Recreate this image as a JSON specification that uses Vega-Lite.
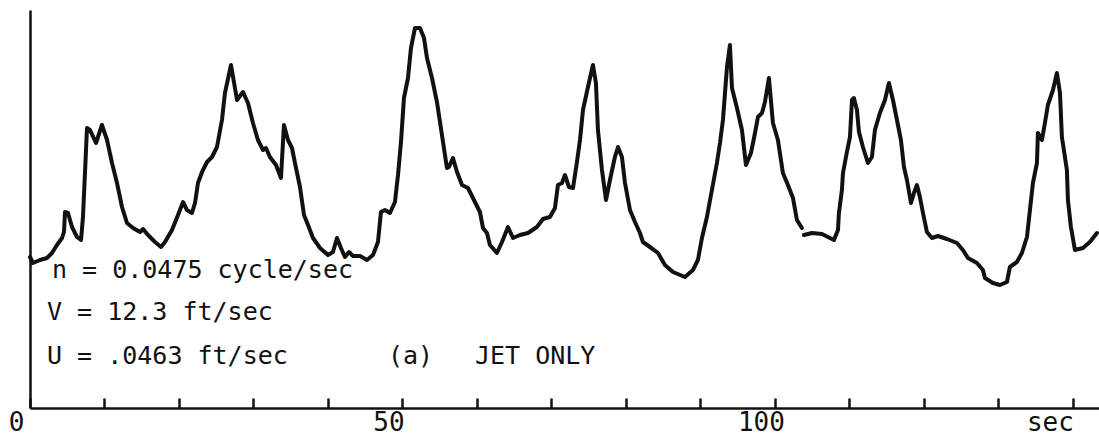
{
  "$schema": "https://vega.github.io/schema/vega-lite/v6.json",
  "width": 1069,
  "height": 398,
  "autosize": {"type": "none"},
  "padding": {"left": 30, "top": 10, "right": 0, "bottom": 28},
  "background": "white",
  "config": {"view": {"stroke": null}, "text": {"font": "DejaVu Sans Mono", "fontSize": 25, "color": "#111", "align": "left", "baseline": "alphabetic"}},
  "datasets": {
    "trace": [
      {"t": 0, "v": 37.75, "s": 1}, {"t": 0.40, "v": 36.25, "s": 1}, {"t": 1.34, "v": 37, "s": 1}, {"t": 2.28, "v": 37.5, "s": 1},
      {"t": 2.95, "v": 38.75, "s": 1}, {"t": 3.62, "v": 40.75, "s": 1}, {"t": 4.30, "v": 42.5, "s": 1}, {"t": 4.56, "v": 44, "s": 1},
      {"t": 4.70, "v": 49, "s": 1}, {"t": 5.10, "v": 48.75, "s": 1}, {"t": 5.64, "v": 45.25, "s": 1}, {"t": 6.31, "v": 42.75, "s": 1},
      {"t": 6.85, "v": 42, "s": 1}, {"t": 7.11, "v": 47.75, "s": 1}, {"t": 7.38, "v": 58.75, "s": 1}, {"t": 7.65, "v": 70, "s": 1},
      {"t": 8.05, "v": 69.5, "s": 1}, {"t": 8.86, "v": 66.25, "s": 1}, {"t": 9.66, "v": 70.75, "s": 1}, {"t": 10.34, "v": 67, "s": 1},
      {"t": 11.01, "v": 61.25, "s": 1}, {"t": 11.68, "v": 56.25, "s": 1}, {"t": 12.35, "v": 50.25, "s": 1}, {"t": 13.02, "v": 46.25, "s": 1},
      {"t": 13.83, "v": 45, "s": 1}, {"t": 14.77, "v": 44, "s": 1}, {"t": 15.17, "v": 44.75, "s": 1}, {"t": 15.84, "v": 43.25, "s": 1},
      {"t": 16.78, "v": 41.5, "s": 1}, {"t": 17.58, "v": 40.25, "s": 1}, {"t": 18.12, "v": 41.5, "s": 1}, {"t": 19.06, "v": 44.5, "s": 1},
      {"t": 19.87, "v": 48.25, "s": 1}, {"t": 20.54, "v": 51.5, "s": 1}, {"t": 21.07, "v": 49.5, "s": 1}, {"t": 21.74, "v": 48.75, "s": 1},
      {"t": 22.15, "v": 51.25, "s": 1}, {"t": 22.55, "v": 56.25, "s": 1}, {"t": 23.09, "v": 59, "s": 1}, {"t": 23.76, "v": 61.5, "s": 1},
      {"t": 24.43, "v": 62.75, "s": 1}, {"t": 25.10, "v": 65.25, "s": 1}, {"t": 25.77, "v": 72, "s": 1}, {"t": 26.17, "v": 78.75, "s": 1},
      {"t": 26.98, "v": 85.75, "s": 1}, {"t": 27.79, "v": 77, "s": 1}, {"t": 28.59, "v": 79, "s": 1}, {"t": 29.26, "v": 76.25, "s": 1},
      {"t": 29.93, "v": 71.25, "s": 1}, {"t": 30.60, "v": 67, "s": 1}, {"t": 31.28, "v": 64.5, "s": 1}, {"t": 31.68, "v": 65, "s": 1},
      {"t": 32.21, "v": 62.75, "s": 1}, {"t": 33.02, "v": 60.75, "s": 1}, {"t": 33.69, "v": 57.5, "s": 1}, {"t": 34.09, "v": 70.75, "s": 1},
      {"t": 34.63, "v": 67, "s": 1}, {"t": 35.17, "v": 65, "s": 1}, {"t": 35.57, "v": 61.25, "s": 1}, {"t": 36.24, "v": 55.25, "s": 1},
      {"t": 36.78, "v": 48.25, "s": 1}, {"t": 37.32, "v": 45.75, "s": 1}, {"t": 37.99, "v": 42.5, "s": 1}, {"t": 38.93, "v": 40, "s": 1},
      {"t": 40.00, "v": 38.25, "s": 1}, {"t": 40.67, "v": 39, "s": 1}, {"t": 41.21, "v": 42.5, "s": 1}, {"t": 41.74, "v": 40, "s": 1},
      {"t": 42.28, "v": 37.75, "s": 1}, {"t": 42.82, "v": 39, "s": 1}, {"t": 43.36, "v": 38, "s": 1}, {"t": 44.30, "v": 38, "s": 1},
      {"t": 45.23, "v": 37, "s": 1}, {"t": 46.04, "v": 38.25, "s": 1}, {"t": 46.71, "v": 41.5, "s": 1}, {"t": 47.11, "v": 49, "s": 1},
      {"t": 47.65, "v": 49.5, "s": 1}, {"t": 48.32, "v": 48.75, "s": 1}, {"t": 48.99, "v": 51.5, "s": 1}, {"t": 49.40, "v": 58.25, "s": 1},
      {"t": 49.80, "v": 66.5, "s": 1}, {"t": 50.20, "v": 77.5, "s": 1}, {"t": 50.74, "v": 82.5, "s": 1}, {"t": 51.14, "v": 90, "s": 1},
      {"t": 51.68, "v": 95, "s": 1}, {"t": 52.35, "v": 95, "s": 1}, {"t": 52.89, "v": 92.5, "s": 1}, {"t": 53.29, "v": 87.5, "s": 1},
      {"t": 53.96, "v": 82.5, "s": 1}, {"t": 54.63, "v": 76.5, "s": 1}, {"t": 55.30, "v": 68.25, "s": 1}, {"t": 55.97, "v": 60, "s": 1},
      {"t": 56.24, "v": 60.25, "s": 1}, {"t": 56.78, "v": 62.5, "s": 1}, {"t": 57.32, "v": 59, "s": 1}, {"t": 57.99, "v": 55.75, "s": 1},
      {"t": 58.79, "v": 55, "s": 1}, {"t": 59.46, "v": 52.5, "s": 1}, {"t": 60.40, "v": 49, "s": 1}, {"t": 60.81, "v": 45, "s": 1},
      {"t": 61.34, "v": 43.75, "s": 1}, {"t": 61.74, "v": 40.75, "s": 1}, {"t": 62.68, "v": 38.75, "s": 1}, {"t": 63.36, "v": 41.5, "s": 1},
      {"t": 64.16, "v": 45.25, "s": 1}, {"t": 64.83, "v": 42.5, "s": 1}, {"t": 65.77, "v": 43.25, "s": 1}, {"t": 66.85, "v": 43.75, "s": 1},
      {"t": 68.05, "v": 45.25, "s": 1}, {"t": 68.86, "v": 47.25, "s": 1}, {"t": 69.80, "v": 47.75, "s": 1}, {"t": 70.47, "v": 50, "s": 1},
      {"t": 70.87, "v": 55.75, "s": 1}, {"t": 71.41, "v": 56.25, "s": 1}, {"t": 71.81, "v": 58.25, "s": 1}, {"t": 72.35, "v": 55.25, "s": 1},
      {"t": 72.89, "v": 55, "s": 1}, {"t": 73.42, "v": 61.5, "s": 1}, {"t": 73.83, "v": 67, "s": 1}, {"t": 74.23, "v": 74.5, "s": 1},
      {"t": 74.90, "v": 80.25, "s": 1}, {"t": 75.57, "v": 85.75, "s": 1}, {"t": 75.97, "v": 81.25, "s": 1}, {"t": 76.24, "v": 69.5, "s": 1},
      {"t": 76.78, "v": 59.5, "s": 1}, {"t": 77.32, "v": 52, "s": 1}, {"t": 77.85, "v": 57, "s": 1}, {"t": 78.52, "v": 62.75, "s": 1},
      {"t": 78.93, "v": 65.25, "s": 1}, {"t": 79.46, "v": 62.75, "s": 1}, {"t": 79.87, "v": 56.25, "s": 1}, {"t": 80.54, "v": 49.5, "s": 1},
      {"t": 81.21, "v": 46.5, "s": 1}, {"t": 81.88, "v": 43.75, "s": 1}, {"t": 82.28, "v": 41.5, "s": 1}, {"t": 83.22, "v": 40.25, "s": 1},
      {"t": 84.30, "v": 38.75, "s": 1}, {"t": 85.23, "v": 35.75, "s": 1}, {"t": 86.31, "v": 34, "s": 1}, {"t": 87.92, "v": 32.75, "s": 1},
      {"t": 88.99, "v": 34.5, "s": 1}, {"t": 89.66, "v": 37, "s": 1}, {"t": 90.20, "v": 42.5, "s": 1}, {"t": 90.87, "v": 47.75, "s": 1},
      {"t": 91.54, "v": 54.5, "s": 1}, {"t": 92.21, "v": 61.25, "s": 1}, {"t": 92.62, "v": 66.25, "s": 1}, {"t": 93.02, "v": 72, "s": 1},
      {"t": 93.56, "v": 85.25, "s": 1}, {"t": 93.96, "v": 90.75, "s": 1}, {"t": 94.23, "v": 80, "s": 1}, {"t": 94.90, "v": 75, "s": 1},
      {"t": 95.57, "v": 69.5, "s": 1}, {"t": 96.11, "v": 60.75, "s": 1}, {"t": 96.78, "v": 63.75, "s": 1}, {"t": 97.32, "v": 68.75, "s": 1},
      {"t": 97.72, "v": 72.75, "s": 1}, {"t": 98.26, "v": 73.75, "s": 1}, {"t": 98.66, "v": 76.5, "s": 1}, {"t": 99.19, "v": 82.5, "s": 1},
      {"t": 99.73, "v": 71.25, "s": 1}, {"t": 100.40, "v": 67, "s": 1}, {"t": 101.07, "v": 58.75, "s": 1}, {"t": 101.74, "v": 55.75, "s": 1},
      {"t": 102.42, "v": 52.5, "s": 1}, {"t": 102.95, "v": 47, "s": 1}, {"t": 103.62, "v": 45, "s": 1},
      {"t": 103.89, "v": 43.25, "s": 2}, {"t": 104.97, "v": 43.75, "s": 2}, {"t": 106.31, "v": 43.5, "s": 2}, {"t": 107.11, "v": 42.75, "s": 2},
      {"t": 107.92, "v": 42, "s": 2}, {"t": 108.46, "v": 44.5, "s": 2}, {"t": 108.59, "v": 48.75, "s": 2}, {"t": 108.99, "v": 54.5, "s": 2},
      {"t": 109.13, "v": 58.75, "s": 2}, {"t": 109.66, "v": 64, "s": 2}, {"t": 110.07, "v": 67.75, "s": 2}, {"t": 110.34, "v": 77, "s": 2},
      {"t": 110.60, "v": 77.5, "s": 2}, {"t": 111.01, "v": 74.5, "s": 2}, {"t": 111.28, "v": 69, "s": 2}, {"t": 111.81, "v": 65.25, "s": 2},
      {"t": 112.48, "v": 61.25, "s": 2}, {"t": 113.02, "v": 62.75, "s": 2}, {"t": 113.42, "v": 69.5, "s": 2}, {"t": 114.09, "v": 73.75, "s": 2},
      {"t": 114.77, "v": 77, "s": 2}, {"t": 115.30, "v": 81.25, "s": 2}, {"t": 115.84, "v": 77, "s": 2}, {"t": 116.38, "v": 72, "s": 2},
      {"t": 116.91, "v": 67, "s": 2}, {"t": 117.32, "v": 60.25, "s": 2}, {"t": 117.72, "v": 57, "s": 2}, {"t": 118.26, "v": 51.25, "s": 2},
      {"t": 118.66, "v": 53.75, "s": 2}, {"t": 119.06, "v": 55.75, "s": 2}, {"t": 119.46, "v": 52.75, "s": 2}, {"t": 119.87, "v": 48.75, "s": 2},
      {"t": 120.40, "v": 44, "s": 2}, {"t": 121.07, "v": 42.5, "s": 2}, {"t": 121.88, "v": 43, "s": 2}, {"t": 123.09, "v": 42.25, "s": 2},
      {"t": 124.43, "v": 41.25, "s": 2}, {"t": 125.23, "v": 39.5, "s": 2}, {"t": 125.91, "v": 37.5, "s": 2}, {"t": 127.11, "v": 36.25, "s": 2},
      {"t": 127.92, "v": 34.5, "s": 2}, {"t": 128.19, "v": 32.5, "s": 2}, {"t": 129.26, "v": 31.25, "s": 2}, {"t": 130.20, "v": 30.75, "s": 2},
      {"t": 131.14, "v": 31.5, "s": 2}, {"t": 131.54, "v": 35.25, "s": 2}, {"t": 132.48, "v": 36.5, "s": 2}, {"t": 133.15, "v": 38.75, "s": 2},
      {"t": 133.83, "v": 42.75, "s": 2}, {"t": 134.23, "v": 49.5, "s": 2}, {"t": 134.63, "v": 56.25, "s": 2}, {"t": 135.17, "v": 61.25, "s": 2},
      {"t": 135.30, "v": 68.75, "s": 2}, {"t": 135.84, "v": 67, "s": 2}, {"t": 136.24, "v": 71.25, "s": 2}, {"t": 136.64, "v": 75.75, "s": 2},
      {"t": 137.32, "v": 79.5, "s": 2}, {"t": 137.85, "v": 83.75, "s": 2}, {"t": 138.26, "v": 78.75, "s": 2}, {"t": 138.52, "v": 67.75, "s": 2},
      {"t": 139.19, "v": 59.5, "s": 2}, {"t": 139.33, "v": 52, "s": 2}, {"t": 139.73, "v": 45.25, "s": 2}, {"t": 140.27, "v": 39.5, "s": 2},
      {"t": 141.34, "v": 40, "s": 2}, {"t": 142.28, "v": 41.5, "s": 2}, {"t": 143.22, "v": 43.75, "s": 2}
    ]
  },
  "layer": [
    {
      "data": {"name": "trace"},
      "mark": {"type": "line", "color": "#111", "strokeWidth": 4, "strokeJoin": "round", "strokeCap": "round"},
      "encoding": {
        "x": {
          "field": "t", "type": "quantitative",
          "scale": {"domain": [0, 143.5], "nice": false, "zero": false},
          "axis": {
            "title": null, "grid": false,
            "values": [0, 10, 20, 30, 40, 50, 60, 70, 80, 90, 100, 110, 120, 130, 140],
            "domainColor": "#111", "domainWidth": 2.5,
            "tickColor": "#111", "tickWidth": 2.5, "tickSize": -10,
            "labelExpr": "datum.value == 140 ? 'sec' : (datum.value % 50 == 0 ? datum.label : '')",
            "labelFont": "DejaVu Sans Mono", "labelFontSize": 26, "labelColor": "#111",
            "labelOffset": {"condition": {"test": "datum.value == 140", "value": -23}, "value": -14},
            "labelPadding": 11, "labelOverlap": false, "labelFlush": false, "labelBound": false
          }
        },
        "y": {
          "field": "v", "type": "quantitative",
          "scale": {"domain": [0, 99.5], "nice": false, "zero": false},
          "axis": {"title": null, "grid": false, "labels": false, "ticks": false, "domainColor": "#111", "domainWidth": 2.5}
        },
        "detail": {"field": "s", "type": "nominal"}
      }
    },
    {
      "data": {"values": [{"label": "n = 0.0475 cycle/sec"}]},
      "mark": {"type": "text"},
      "encoding": {"x": {"datum": 2.95}, "y": {"datum": 32.5}, "text": {"field": "label"}}
    },
    {
      "data": {"values": [{"label": "V = 12.3 ft/sec"}]},
      "mark": {"type": "text"},
      "encoding": {"x": {"datum": 2.28}, "y": {"datum": 22}, "text": {"field": "label"}}
    },
    {
      "data": {"values": [{"label": "U = .0463 ft/sec"}]},
      "mark": {"type": "text"},
      "encoding": {"x": {"datum": 2.28}, "y": {"datum": 11}, "text": {"field": "label"}}
    },
    {
      "data": {"values": [{"label": "(a)"}]},
      "mark": {"type": "text"},
      "encoding": {"x": {"datum": 48.05}, "y": {"datum": 11}, "text": {"field": "label"}}
    },
    {
      "data": {"values": [{"label": "JET ONLY"}]},
      "mark": {"type": "text"},
      "encoding": {"x": {"datum": 59.73}, "y": {"datum": 11}, "text": {"field": "label"}}
    }
  ]
}
